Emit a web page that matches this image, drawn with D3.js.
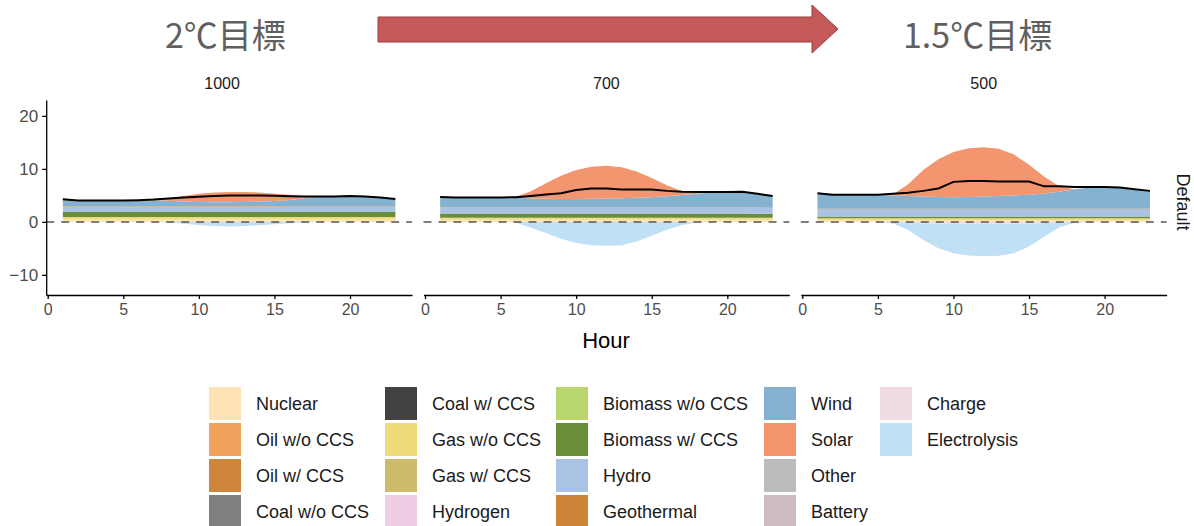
<!DOCTYPE html>
<html><head><meta charset="utf-8">
<script src="https://cdn.jsdelivr.net/npm/d3@7"></script>
<style>body{margin:0;background:#fff} svg{display:block;background:#fff}</style>
</head><body><svg id="c" width="1194" height="526"></svg>
<script>
// ---------- data ----------
const hours = [1,2,3,4,5,6,7,8,9,10,11,12,13,14,15,16,17,18,19,20,21,22,23];
const panels = ["1000","700","500"];
const stripRight = "Default";
const xTicks = [0,5,10,15,20];
const yTicks = [-10,0,10,20];
const techs = ["Nuclear","Oil w/o CCS","Oil w/ CCS","Coal w/o CCS","Coal w/ CCS","Gas w/o CCS","Gas w/ CCS","Hydrogen",
  "Biomass w/o CCS","Biomass w/ CCS","Hydro","Geothermal","Wind","Solar","Other","Battery","Charge","Electrolysis"];
const negativeTechs = ["Charge","Electrolysis"];
const techColors = ["#fde3b6","#f2a15c","#d0863a","#7f7f7f","#424242","#eedc7c","#cdbb6c","#efcde5",
  "#b9d66c","#6a8d3a","#a9c3e5","#cd8438","#86b2d1","#f3956f","#bcbcbc","#cdbcc1","#f1dbe2","#bfe0f5"];

// panel 1000
const nuclear_1000 = [0.45,0.45,0.45,0.45,0.45,0.45,0.45,0.45,0.45,0.45,0.45,0.45,0.45,0.45,0.45,0.45,0.45,0.45,0.45,0.45,0.45,0.45,0.45];
const gas_1000     = [0.45,0.45,0.45,0.45,0.45,0.45,0.45,0.45,0.45,0.45,0.45,0.45,0.45,0.45,0.45,0.45,0.45,0.45,0.45,0.45,0.45,0.45,0.45];
const bioccs_1000  = [0.95,0.95,0.95,0.95,0.95,0.95,0.95,0.95,0.95,0.95,0.95,0.95,0.95,0.95,0.95,0.95,0.95,0.95,0.95,0.95,0.95,0.95,0.95];
const hydro_1000   = [1.0,1.0,1.0,1.0,1.0,1.0,1.0,1.0,1.0,1.0,1.0,1.0,1.0,1.0,1.0,1.0,1.0,1.0,1.0,1.0,1.0,1.0,1.0];
const geo_1000     = [0.08,0.08,0.08,0.08,0.08,0.08,0.08,0.08,0.08,0.08,0.08,0.08,0.08,0.08,0.08,0.08,0.08,0.08,0.08,0.08,0.08,0.08,0.08];
const wind_1000    = [1.32,1.12,1.12,1.12,1.12,1.17,1.22,1.07,0.92,0.82,0.77,0.77,0.82,0.87,1.02,1.22,1.52,1.82,1.87,1.97,1.87,1.67,1.37];
const solar_1000   = [0,0,0,0,0,0,0.15,0.5,1.05,1.55,1.85,1.95,1.9,1.75,1.35,0.95,0.45,0.05,0,0,0,0,0];
const charge_1000  = [0,0,0,0,0,0,0,0,0,0,0,0,0,0,0,0,0,0,0,0,0,0,0];
const elec_1000    = [0,0,0,0,0,0,0,-0.1,-0.35,-0.6,-0.8,-0.85,-0.8,-0.65,-0.45,-0.25,-0.1,0,0,0,0,0,0];
const demand_1000  = [4.28,4.05,4.05,4.05,4.05,4.1,4.2,4.4,4.6,4.75,4.9,5.0,5.0,5.0,4.95,4.85,4.8,4.8,4.8,4.9,4.8,4.6,4.3];

// panel 700
const nuclear_700 = [0.4,0.4,0.4,0.4,0.4,0.4,0.4,0.4,0.4,0.4,0.4,0.4,0.4,0.4,0.4,0.4,0.4,0.4,0.4,0.4,0.4,0.4,0.4];
const gas_700     = [0.4,0.4,0.4,0.4,0.4,0.4,0.4,0.4,0.4,0.4,0.4,0.4,0.4,0.4,0.4,0.4,0.4,0.4,0.4,0.4,0.4,0.4,0.4];
const bioccs_700  = [0.8,0.8,0.8,0.8,0.8,0.8,0.8,0.8,0.8,0.8,0.8,0.8,0.8,0.8,0.8,0.8,0.8,0.8,0.8,0.8,0.8,0.75,0.7];
const hydro_700   = [1.1,1.1,1.1,1.1,1.1,1.1,1.1,1.1,1.1,1.1,1.1,1.1,1.1,1.1,1.1,1.1,1.1,1.1,1.1,1.1,1.1,1.1,1.1];
const geo_700     = [0.07,0.07,0.07,0.07,0.07,0.07,0.07,0.07,0.07,0.07,0.07,0.07,0.07,0.07,0.07,0.07,0.07,0.07,0.07,0.07,0.07,0.07,0.07];
const wind_700    = [1.88,1.83,1.83,1.83,1.83,1.78,1.68,1.58,1.53,1.53,1.58,1.63,1.68,1.78,1.88,2.08,2.28,2.53,2.78,2.88,2.93,2.63,2.23];
const solar_700   = [0,0,0,0,0,0.2,1.35,2.95,4.4,5.5,6.05,6.2,5.85,4.95,3.65,2.05,0.75,0.1,0,0,0,0,0];
const charge_700  = [0,0,0,0,0,0,0,0,0,0,0,0,0,0,0,0,0,0,0,0,0,0,0];
const elec_700    = [0,0,0,0,0,-0.1,-1.1,-2.1,-3.2,-4.0,-4.4,-4.5,-4.4,-3.7,-2.6,-1.5,-0.6,-0.1,0,0,0,0,0];
const demand_700  = [4.7,4.6,4.6,4.6,4.6,4.65,4.9,5.15,5.4,6.0,6.3,6.3,6.1,6.1,6.1,5.85,5.7,5.65,5.65,5.65,5.7,5.3,4.9];

// panel 500
const nuclear_500 = [0.35,0.35,0.35,0.35,0.35,0.35,0.35,0.35,0.35,0.35,0.35,0.35,0.35,0.35,0.35,0.35,0.35,0.35,0.35,0.35,0.35,0.35,0.35];
const gas_500     = [0.35,0.35,0.35,0.35,0.35,0.35,0.35,0.35,0.35,0.35,0.35,0.35,0.35,0.35,0.35,0.35,0.35,0.35,0.35,0.35,0.35,0.35,0.35];
const bioccs_500  = [0.3,0.3,0.3,0.3,0.3,0.3,0.3,0.3,0.3,0.3,0.3,0.3,0.3,0.3,0.3,0.3,0.3,0.3,0.3,0.3,0.3,0.3,0.3];
const hydro_500   = [1.4,1.4,1.4,1.4,1.4,1.4,1.4,1.4,1.4,1.4,1.4,1.4,1.4,1.4,1.4,1.4,1.4,1.4,1.4,1.4,1.4,1.4,1.4];
const geo_500     = [0.07,0.07,0.07,0.07,0.07,0.07,0.07,0.07,0.07,0.07,0.07,0.07,0.07,0.07,0.07,0.07,0.07,0.07,0.07,0.07,0.07,0.07,0.07];
const wind_500    = [2.93,2.68,2.63,2.63,2.63,2.53,2.43,2.33,2.23,2.18,2.23,2.33,2.43,2.53,2.63,2.88,3.23,3.68,4.03,4.13,4.03,3.68,3.38];
const solar_500   = [0,0,0,0,0,0.2,2.2,5.0,7.1,8.55,9.2,9.3,8.9,7.7,5.7,3.15,1.0,0,0,0,0,0,0];
const charge_500  = [0,0,0,0,0,0,-0.1,-0.25,-0.3,-0.3,-0.3,-0.3,-0.3,-0.3,-0.3,-0.2,-0.1,0,0,0,0,0,0];
const elec_500    = [0,0,0,0,0,-0.3,-1.4,-3.15,-4.7,-5.6,-6.05,-6.2,-6.1,-5.6,-4.35,-2.6,-0.9,-0.2,0,0,0,0,0];
const demand_500  = [5.4,5.1,5.1,5.1,5.1,5.3,5.5,5.85,6.3,7.55,7.7,7.7,7.6,7.6,7.6,6.7,6.7,6.6,6.6,6.6,6.5,6.15,5.85];

const panelSeries = [
  {"Nuclear":nuclear_1000,"Gas w/o CCS":gas_1000,"Biomass w/ CCS":bioccs_1000,"Hydro":hydro_1000,"Geothermal":geo_1000,"Wind":wind_1000,"Solar":solar_1000,"Charge":charge_1000,"Electrolysis":elec_1000},
  {"Nuclear":nuclear_700,"Gas w/o CCS":gas_700,"Biomass w/ CCS":bioccs_700,"Hydro":hydro_700,"Geothermal":geo_700,"Wind":wind_700,"Solar":solar_700,"Charge":charge_700,"Electrolysis":elec_700},
  {"Nuclear":nuclear_500,"Gas w/o CCS":gas_500,"Biomass w/ CCS":bioccs_500,"Hydro":hydro_500,"Geothermal":geo_500,"Wind":wind_500,"Solar":solar_500,"Charge":charge_500,"Electrolysis":elec_500}
];
const demands = [demand_1000, demand_700, demand_500];

// ---------- drawing ----------
const svg = d3.select("#c");
const FONT = "'Liberation Sans', Arial, sans-serif";
const color = d3.scaleOrdinal().domain(techs).range(techColors);

// title row
svg.append("text").attr("x",165).attr("y",48).attr("font-family","'Noto Sans CJK JP', sans-serif")
  .attr("font-size",34).attr("fill","#5f5f5f").text("2℃目標");
svg.append("text").attr("x",903).attr("y",48).attr("font-family","'Noto Sans CJK JP', sans-serif")
  .attr("font-size",34).attr("fill","#5f5f5f").text("1.5℃目標");
svg.append("polygon")
  .attr("points","378,17 812,17 812,5 838,29 812,53 812,42 378,42")
  .attr("fill","#c4595a").attr("stroke","#9c3c3c").attr("stroke-width",1);

const panelW = 365.8, panelStep = 377.3, panelX0 = 46.2;
const yTop = 100, yBot = 295;
const y = d3.scaleLinear().domain([-13.8, 23]).range([yBot, yTop]);
const stripOffsets = [-7, 0, 0];

panels.forEach((name, i) => {
  const px = panelX0 + i*panelStep;
  const x = d3.scaleLinear().domain([-0.1, 24.1]).range([px, px + panelW]);
  const series = panelSeries[i];
  const rows = hours.map((h, j) => {
    const r = {hour: h};
    techs.forEach(t => { r[t] = series[t] ? series[t][j] : 0; });
    return r;
  });
  const posKeys = techs.filter(t => series[t] && !negativeTechs.includes(t));
  const negKeys = techs.filter(t => series[t] && negativeTechs.includes(t));
  const stackPos = d3.stack().keys(posKeys).order(d3.stackOrderNone).offset(d3.stackOffsetNone);
  const stackNeg = d3.stack().keys(negKeys).order(d3.stackOrderNone).offset(d3.stackOffsetNone);
  const layers = stackPos(rows).concat(stackNeg(rows));
  const area = d3.area().x(d => x(d.data.hour)).y0(d => y(d[0])).y1(d => y(d[1]));
  const g = svg.append("g");
  g.selectAll("path.layer").data(layers).join("path")
    .attr("class","layer").attr("d", area).attr("fill", d => color(d.key));

  // zero dashed line
  g.append("line").attr("x1", px).attr("x2", px + panelW).attr("y1", y(0)).attr("y2", y(0))
    .attr("stroke","#555").attr("stroke-width",1.5).attr("stroke-dasharray","8,7");

  // demand line
  g.append("path").datum(demands[i].map((v, j) => [hours[j], v]))
    .attr("d", d3.line().x(d => x(d[0])).y(d => y(d[1])))
    .attr("fill","none").attr("stroke","#000").attr("stroke-width",2);

  // x axis
  const xa = svg.append("g").attr("transform", `translate(0,${yBot})`)
    .call(d3.axisBottom(x).tickValues(xTicks).tickSize(4).tickPadding(5).tickSizeOuter(0));
  xa.select(".domain").attr("stroke","#000").attr("stroke-width",1.3);
  xa.selectAll(".tick line").attr("stroke","#000").attr("stroke-width",1.3);
  xa.selectAll(".tick text").attr("font-family",FONT).attr("font-size",16).attr("fill","#4d4d4d");

  // strip label
  svg.append("text").attr("x", px + panelW/2 + stripOffsets[i]).attr("y", 89).attr("text-anchor","middle")
    .attr("font-family",FONT).attr("font-size",16).attr("fill","#1a1a1a").text(name);

  if (i === 0) {
    const ya = svg.append("g").attr("transform", `translate(${px},0)`)
      .call(d3.axisLeft(y).tickValues(yTicks).tickSize(4).tickPadding(4).tickSizeOuter(0));
    ya.select(".domain").attr("stroke","#000").attr("stroke-width",1.3);
    ya.selectAll(".tick line").attr("stroke","#000").attr("stroke-width",1.3);
    ya.selectAll(".tick text").attr("font-family",FONT).attr("font-size",17).attr("fill","#4d4d4d");
  }
});

// right strip label
svg.append("text").attr("transform","translate(1177,202) rotate(90)").attr("text-anchor","middle")
  .attr("font-family",FONT).attr("font-size",18).attr("fill","#1a1a1a").text(stripRight);

// x title
svg.append("text").attr("x",606).attr("y",348).attr("text-anchor","middle")
  .attr("font-family",FONT).attr("font-size",22).attr("fill","#000").text("Hour");

// legend
const legColX = [209, 385, 556, 764, 880];
const legRowY = [387, 423, 459, 495];
const leg = svg.append("g");
techs.forEach((t, k) => {
  const c = Math.floor(k / 4), r = k % 4;
  leg.append("rect").attr("x", legColX[c]).attr("y", legRowY[r]).attr("width",32).attr("height",33)
    .attr("fill", color(t));
  leg.append("text").attr("x", legColX[c] + 47).attr("y", legRowY[r] + 23)
    .attr("font-family",FONT).attr("font-size",18).attr("fill","#1a1a1a").text(t);
});
</script>
</body></html>
